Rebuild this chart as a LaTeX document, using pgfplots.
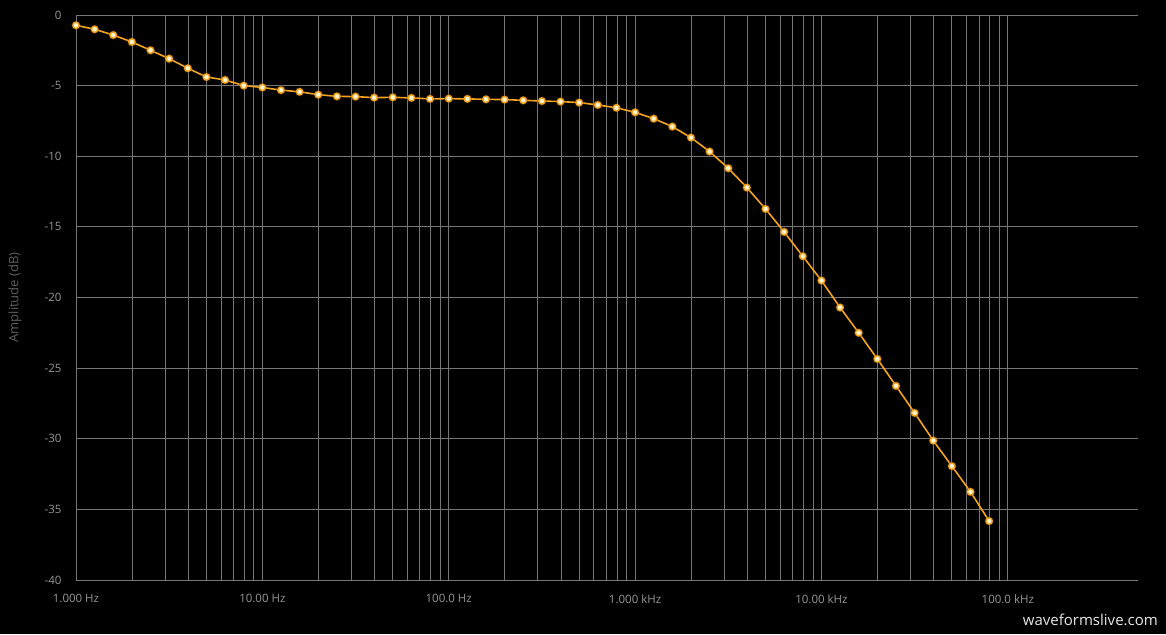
\documentclass[border=0pt]{standalone}
\usepackage{fontspec}
\setmainfont{Open Sans}
\usepackage{pgfplots}
\pgfplotsset{compat=1.18}
\definecolor{gridc}{HTML}{767676}
\definecolor{tickc}{HTML}{959595}
\definecolor{labc}{HTML}{5E5E5E}
\definecolor{curve}{HTML}{F5A31F}
\definecolor{mfill}{HTML}{FFF4CF}
\definecolor{wm}{HTML}{E6E6E6}
\pgfplotstableread{
f db
1 -0.73
1.2589 -1.01
1.5849 -1.42
1.9953 -1.91
2.5119 -2.50
3.1623 -3.09
3.9811 -3.77
5.0119 -4.39
6.3096 -4.60
7.9433 -5.00
10 -5.13
12.589 -5.32
15.849 -5.44
19.953 -5.64
25.119 -5.76
31.623 -5.78
39.811 -5.85
50.119 -5.83
63.096 -5.87
79.433 -5.94
100 -5.92
125.89 -5.94
158.49 -5.97
199.53 -5.99
251.19 -6.04
316.23 -6.09
398.11 -6.13
501.19 -6.20
630.96 -6.37
794.33 -6.57
1000 -6.89
1258.9 -7.34
1584.9 -7.90
1995.3 -8.68
2511.9 -9.67
3162.3 -10.85
3981.1 -12.22
5011.9 -13.73
6309.6 -15.36
7943.3 -17.08
10000 -18.80
12589 -20.71
15849 -22.50
19953 -24.35
25119 -26.26
31623 -28.17
39811 -30.13
50119 -31.94
63096 -33.76
79433 -35.83
}\datatable
\begin{document}
\begin{tikzpicture}
\fill[black] (-76pt,-54pt) rectangle (1090pt,580pt);
\begin{axis}[
  at={(0pt,0pt)}, anchor=south west,
  scale only axis, width=1062pt, height=565pt,
  xmode=log, log basis x=10,
  xmin=1, xmax=500000, ymin=-40, ymax=0,
  xtick={1,10,100,1000,10000,100000},
  xticklabels={1.000 Hz,10.00 Hz,100.0 Hz,1.000 kHz,10.00 kHz,100.0 kHz},
  minor xtick={2,3,4,5,6,7,8,9,20,30,40,50,60,70,80,90,200,300,400,500,600,700,800,900,2000,3000,4000,5000,6000,7000,8000,9000,20000,30000,40000,50000,60000,70000,80000,90000},
  ytick={-40,-35,-30,-25,-20,-15,-10,-5,0},
  yticklabels={-40,-35,-30,-25,-20,-15,-10,-5,0},
  grid=both,
  major grid style={draw=gridc, line width=0.8pt},
  minor grid style={draw=gridc, line width=0.8pt},
  major tick length=0pt, minor tick length=0pt,
  axis line style={draw=none},
  tick label style={font=\fontsize{11.5}{13}\selectfont, text=tickc},
  xticklabel style={yshift=-11pt},
  yticklabel style={xshift=-11pt},
  ylabel={Amplitude (dB)},
  ylabel style={at={(axis description cs:-0.0574,0.5)}, anchor=center, font=\fontsize{13}{15}\selectfont, text=labc},
  clip=false,
]
\addplot[forget plot, draw=none, mark=*, mark size=4.6pt, mark options={fill=curve, draw=none, opacity=0.35}] table[x=f,y=db] {\datatable};
\addplot[color=curve, line width=1.6pt, mark=*, mark size=3.1pt, mark options={fill=mfill, draw=curve, line width=1.3pt}] table[x=f,y=db] {\datatable};
\end{axis}
\node[anchor=east, text=wm, font=\fontsize{15}{17}\selectfont, inner sep=0pt] at (1082pt,-40pt) {waveformslive.com};
\pgfresetboundingbox
\useasboundingbox (-76pt,-54pt) rectangle (1090pt,580pt);
\end{tikzpicture}
\end{document}
